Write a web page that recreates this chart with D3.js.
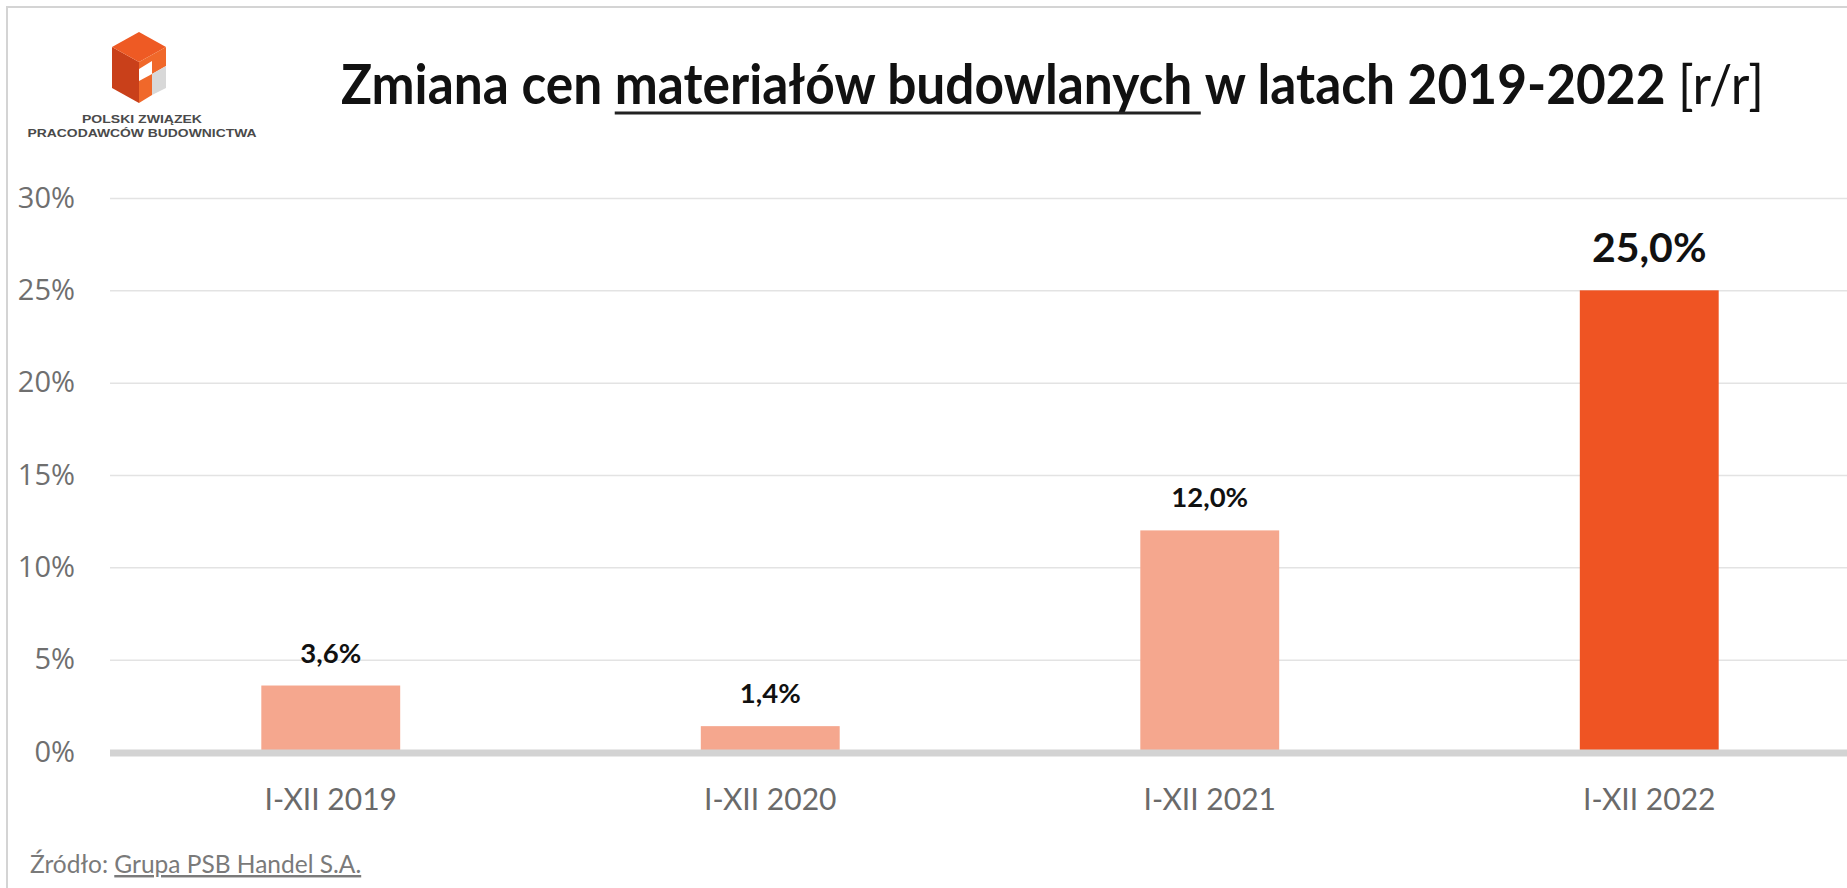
<!DOCTYPE html>
<html>
<head>
<meta charset="utf-8">
<script src="https://cdn.jsdelivr.net/npm/d3@7"></script>
<style>
  body { margin: 0; background: #fff; }
  svg { display: block; }
</style>
</head>
<body>
<div id="chart"></div>
<script>
// data
var categories = ["I-XII 2019", "I-XII 2020", "I-XII 2021", "I-XII 2022"];
var values = [3.6, 1.4, 12.0, 25.0];
var valueLabels = ["3,6%", "1,4%", "12,0%", "25,0%"];
var yTicks = [0, 5, 10, 15, 20, 25, 30];
var highlight = "I-XII 2022";

var width = 1847;
var height = 888;

var svg = d3.select("#chart").append("svg")
    .attr("width", width)
    .attr("height", height);

// frame
svg.append("path")
    .attr("d", "M7," + height + "V7H" + width)
    .attr("fill", "none")
    .attr("stroke", "#d4d4d4")
    .attr("stroke-width", 2);

var xScale = d3.scaleBand()
    .domain(categories)
    .range([111, 1869])
    .paddingInner(0.684)
    .paddingOuter(0.342);

var yScale = d3.scaleLinear()
    .domain([0, 30])
    .range([752, 198]);

// y axis with gridlines
var yAxis = svg.append("g")
    .attr("transform", "translate(110,0)")
    .call(d3.axisLeft(yScale)
        .tickValues(yTicks)
        .tickSize(-(width - 110))
        .tickPadding(35)
        .tickFormat(function(d){ return d + "%"; }));
yAxis.select(".domain").remove();
yAxis.selectAll(".tick line")
    .attr("stroke", "#e3e3e3")
    .attr("stroke-width", 1.5);
yAxis.selectAll(".tick text")
    .attr("font-family", "Open Sans")
    .attr("font-size", 29)
    .attr("fill", "#6f6f6f");

// bars
svg.selectAll(".bar")
    .data(values)
    .enter().append("rect")
    .attr("class", "bar")
    .attr("x", function(d, i){ return xScale(categories[i]); })
    .attr("y", function(d){ return yScale(d); })
    .attr("width", xScale.bandwidth())
    .attr("height", function(d){ return yScale(0) - yScale(d); })
    .attr("fill", function(d, i){ return categories[i] == highlight ? "#ef5423" : "#f5a78e"; });

// thick zero line
svg.append("line")
    .attr("x1", 110).attr("x2", width)
    .attr("y1", yScale(0) + 1).attr("y2", yScale(0) + 1)
    .attr("stroke", "#d3d3d3")
    .attr("stroke-width", 7);

// value labels
svg.selectAll(".val")
    .data(values)
    .enter().append("text")
    .attr("class", "val")
    .attr("x", function(d, i){ return xScale(categories[i]) + xScale.bandwidth() / 2; })
    .attr("y", function(d, i){ return yScale(d) - (categories[i] == highlight ? 28 : 23); })
    .attr("text-anchor", "middle")
    .attr("font-family", "Lato")
    .attr("font-weight", "bold")
    .attr("font-size", function(d, i){ return categories[i] == highlight ? 41 : 27.5; })
    .attr("fill", "#111")
    .text(function(d, i){ return valueLabels[i]; });

// x axis labels
var xAxis = svg.append("g")
    .attr("transform", "translate(0," + yScale(0) + ")")
    .call(d3.axisBottom(xScale).tickSize(0).tickPadding(37));
xAxis.select(".domain").remove();
xAxis.selectAll(".tick text")
    .attr("font-family", "Lato")
    .attr("font-size", 30)
    .attr("fill", "#6a6a6a");

// title
var titleG = svg.append("g").attr("transform", "translate(341,104)");
var title = titleG.append("text")
    .attr("font-family", "Lato")
    .attr("font-size", 55)
    .attr("fill", "#111");
var part1 = "Zmiana cen ";
var part2 = "materiałów budowlanych ";
var part3 = "w latach 2019-2022 ";
var part4 = "[r/r]";
title.append("tspan").attr("font-weight", "bold").text(part1);
title.append("tspan").attr("font-weight", "bold").text(part2);
title.append("tspan").attr("font-weight", "bold").text(part3);
title.append("tspan").attr("font-weight", "normal").text(part4);

var titleW = title.node().getComputedTextLength();
var sx = 1422 / titleW;
title.attr("transform", "scale(" + sx + ",1)");
var u0 = title.node().getSubStringLength(0, part1.length) * sx;
var u1 = title.node().getSubStringLength(0, part1.length + part2.length) * sx;
titleG.append("line")
    .attr("x1", u0).attr("x2", u1 - 4)
    .attr("y1", 9).attr("y2", 9)
    .attr("stroke", "#222")
    .attr("stroke-width", 3);

// logo
var logo = svg.append("g");
logo.append("path")
    .attr("d", "M112,47L139,62L139,103L112,88Z")
    .attr("fill", "#c9401a");
logo.append("path")
    .attr("d", "M112,47L139,32L166,47L139,62Z")
    .attr("fill", "#ee5a24");
logo.append("path")
    .attr("d", "M139,62L166,47L166,66L152,74L152,95L139,103Z")
    .attr("fill", "#f0682a");
logo.append("path")
    .attr("d", "M152,74L166,66L166,88L152,95Z")
    .attr("fill", "#d8d8d8");
logo.append("path")
    .attr("d", "M139,69L152,61L152,74L139,81Z")
    .attr("fill", "#ffffff");
logo.append("text")
    .attr("x", 142).attr("y", 123)
    .attr("text-anchor", "middle")
    .attr("font-family", "Liberation Sans")
    .attr("font-weight", "bold")
    .attr("font-size", 11)
    .attr("fill", "#4a4a4a")
    .attr("textLength", 120)
    .attr("lengthAdjust", "spacingAndGlyphs")
    .text("POLSKI ZWIĄZEK");
logo.append("text")
    .attr("x", 142).attr("y", 137)
    .attr("text-anchor", "middle")
    .attr("font-family", "Liberation Sans")
    .attr("font-weight", "bold")
    .attr("font-size", 11)
    .attr("fill", "#4a4a4a")
    .attr("textLength", 229)
    .attr("lengthAdjust", "spacingAndGlyphs")
    .text("PRACODAWCÓW BUDOWNICTWA");

// source
var source = svg.append("text")
    .attr("x", 30).attr("y", 873)
    .attr("font-family", "Lato")
    .attr("font-size", 24.5)
    .attr("fill", "#7a7a7a");
source.append("tspan").text("Źródło: ");
source.append("tspan")
    .attr("text-decoration", "underline")
    .text("Grupa PSB Handel S.A.");
</script>
</body>
</html>
